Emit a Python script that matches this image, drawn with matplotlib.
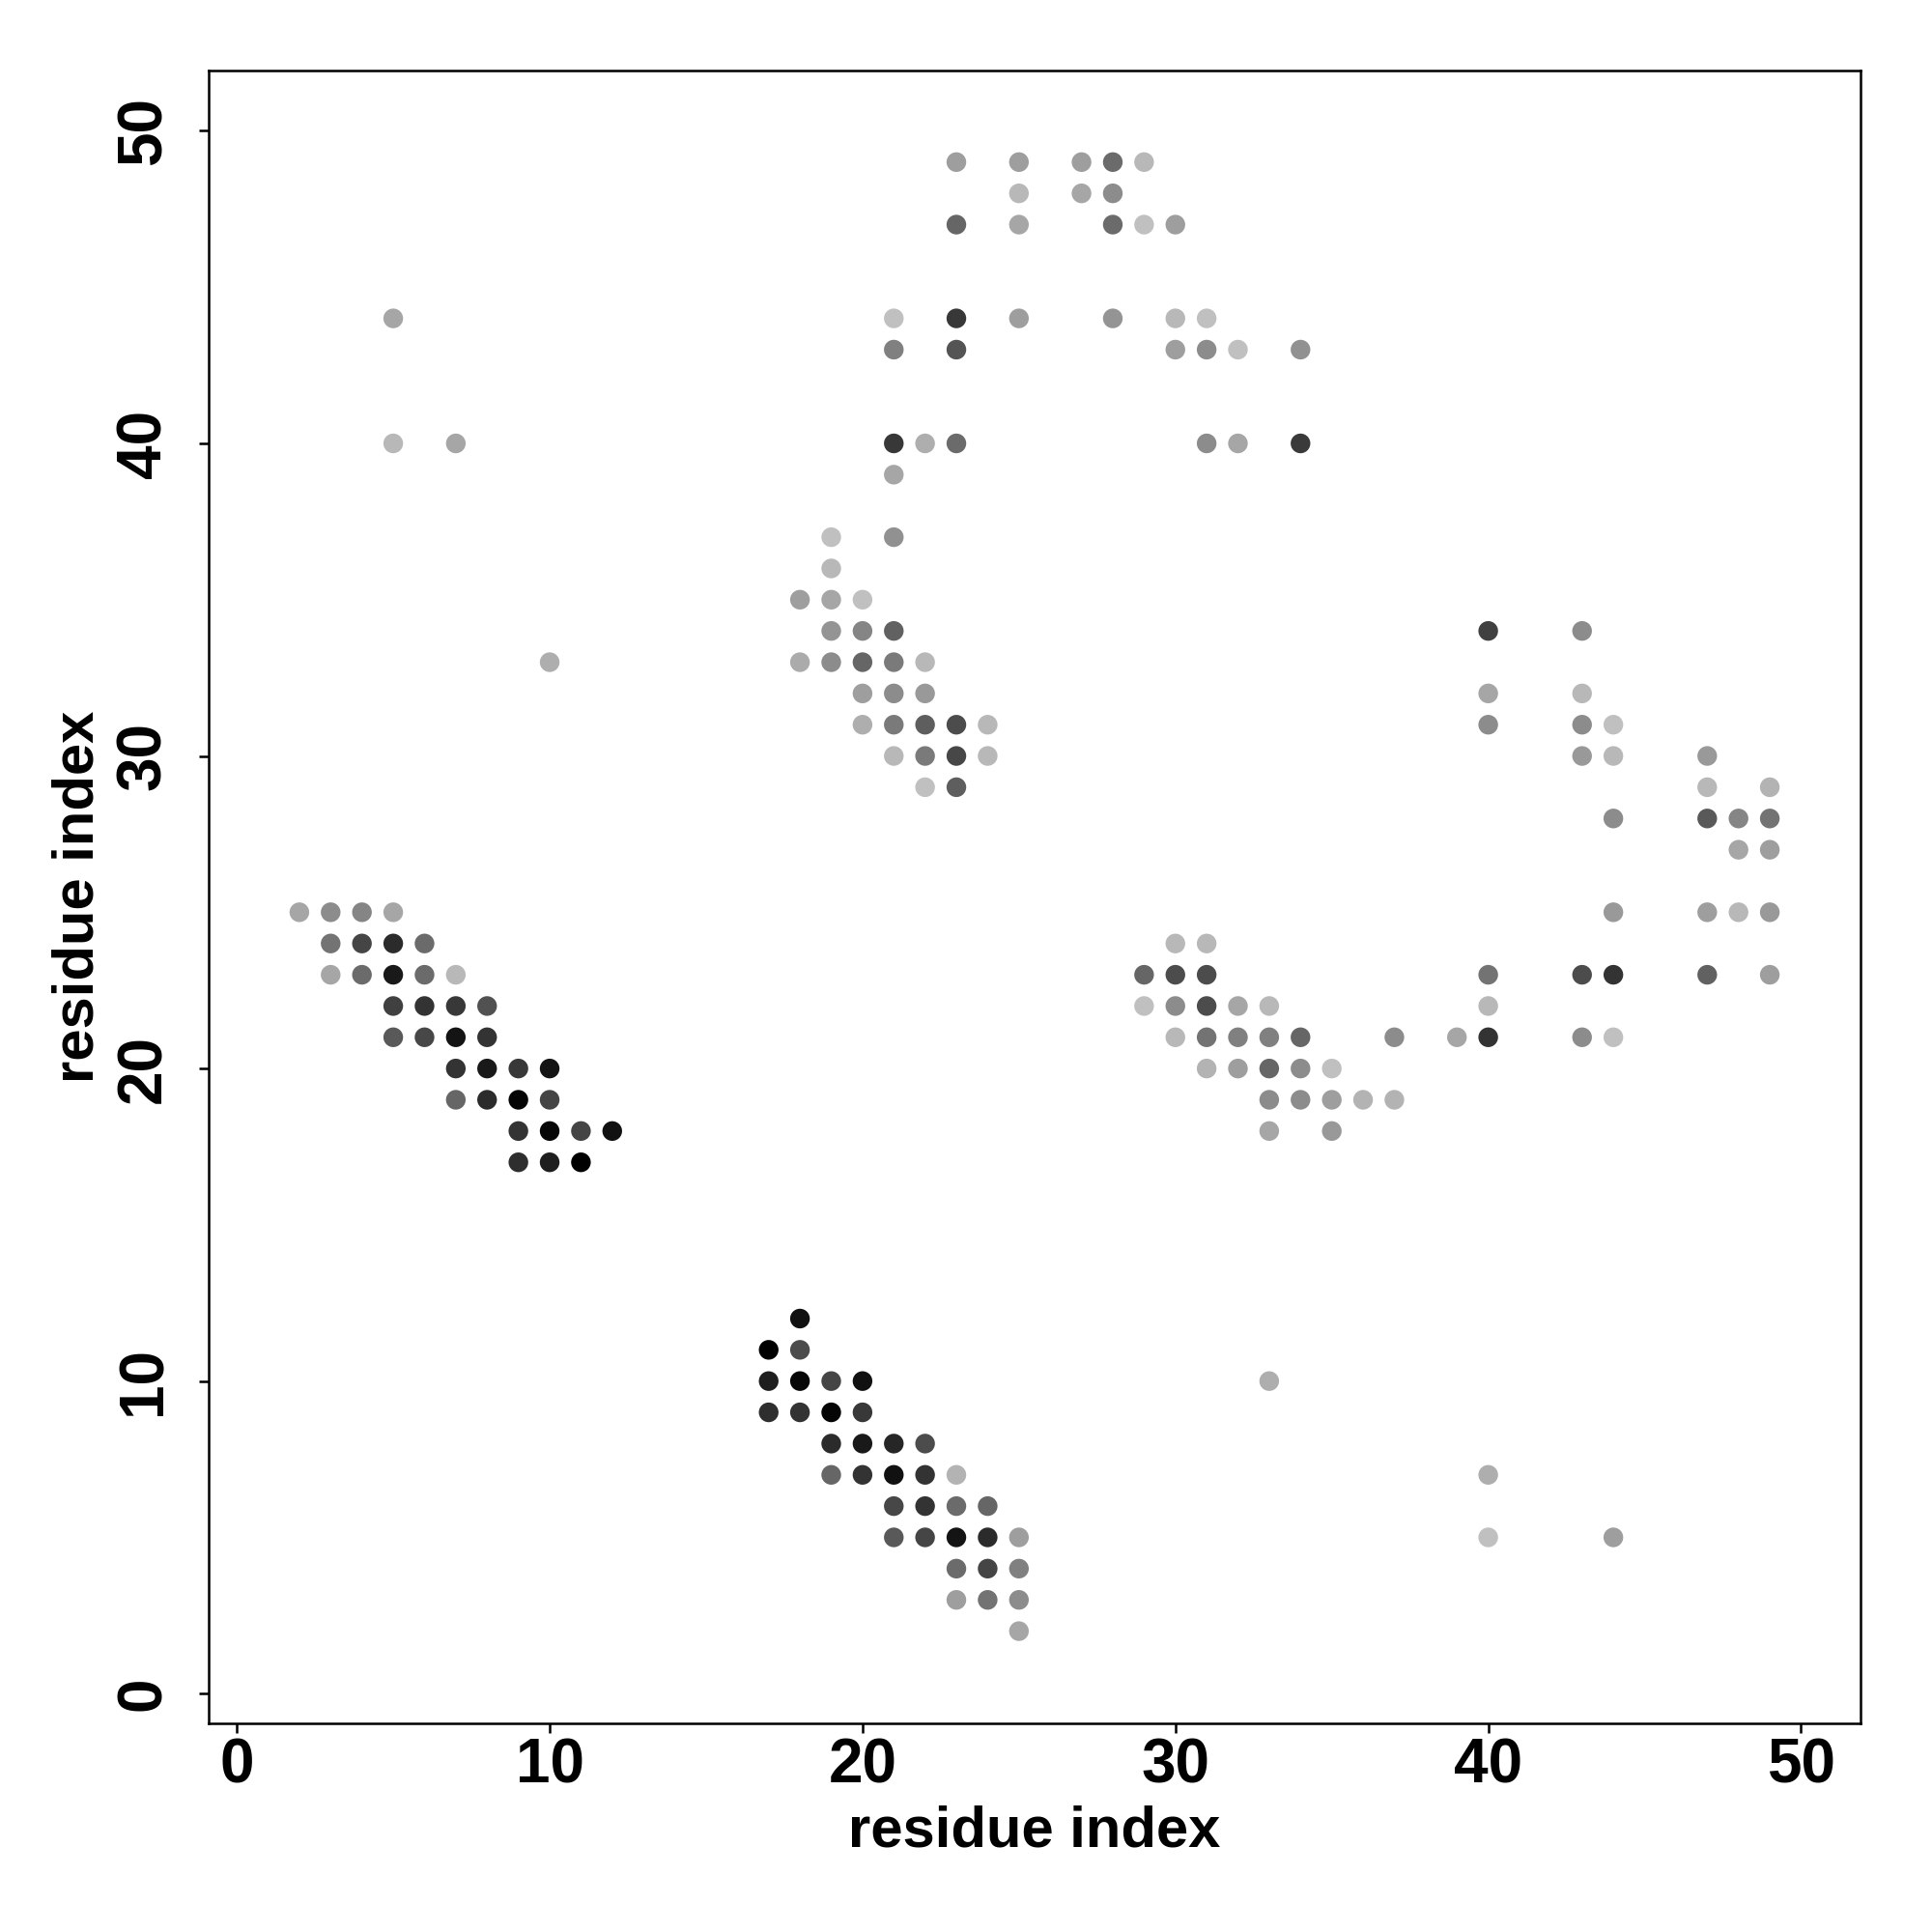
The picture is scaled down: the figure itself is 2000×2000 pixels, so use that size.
import numpy as np
import matplotlib.pyplot as plt

plt.rcParams['font.family'] = ['Liberation Sans', 'DejaVu Sans']
plt.rcParams['font.weight'] = 'bold'

# contact map: residue i, residue j, grey level (0 = black, 1 = white)
res_i = [
    # lower-left strand pair
    2, 3, 4, 5,
    3, 4, 5, 6,
    3, 4, 5, 6, 7,
    5, 6, 7, 8,
    5, 6, 7, 8,
    7, 8, 9, 10,
    7, 8, 9, 10,
    9, 10, 11, 12,
    9, 10, 11,
    # bottom strand pair
    18,
    17, 18,
    17, 18, 19, 20,
    17, 18, 19, 20,
    19, 20, 21, 22,
    19, 20, 21, 22, 23,
    21, 22, 23, 24,
    21, 22, 23, 24, 25,
    23, 24, 25,
    23, 24, 25,
    25,
    # top group
    23, 25, 27, 28, 29,
    25, 27, 28,
    23, 25, 28, 29, 30,
    21, 23, 25, 28, 30, 31,
    21, 23, 30, 31, 32, 34,
    21, 22, 23, 31, 32, 34,
    21,
    # middle group
    19, 21,
    19,
    18, 19, 20,
    19, 20, 21,
    18, 19, 20, 21, 22,
    20, 21, 22,
    20, 21, 22, 23, 24,
    21, 22, 23, 24,
    22, 23,
    # isolated
    5, 5, 7, 10, 33,
    # right-middle group
    30, 31,
    29, 30, 31,
    29, 30, 31, 32, 33,
    30, 31, 32, 33, 34, 37,
    31, 32, 33, 34, 35,
    33, 34, 35, 36, 37,
    33, 35,
    # far right
    39,
    40, 40, 40, 40, 40, 40, 40, 40,
    43, 43, 43, 43, 43, 43,
    44, 44, 44, 44, 44, 44, 44,
    47, 47, 47, 47, 47,
    48, 48, 48,
    49, 49, 49, 49, 49,
]

res_j = [
    25, 25, 25, 25,
    24, 24, 24, 24,
    23, 23, 23, 23, 23,
    22, 22, 22, 22,
    21, 21, 21, 21,
    20, 20, 20, 20,
    19, 19, 19, 19,
    18, 18, 18, 18,
    17, 17, 17,
    12,
    11, 11,
    10, 10, 10, 10,
    9, 9, 9, 9,
    8, 8, 8, 8,
    7, 7, 7, 7, 7,
    6, 6, 6, 6,
    5, 5, 5, 5, 5,
    4, 4, 4,
    3, 3, 3,
    2,
    49, 49, 49, 49, 49,
    48, 48, 48,
    47, 47, 47, 47, 47,
    44, 44, 44, 44, 44, 44,
    43, 43, 43, 43, 43, 43,
    40, 40, 40, 40, 40, 40,
    39,
    37, 37,
    36,
    35, 35, 35,
    34, 34, 34,
    33, 33, 33, 33, 33,
    32, 32, 32,
    31, 31, 31, 31, 31,
    30, 30, 30, 30,
    29, 29,
    44, 40, 40, 33, 10,
    24, 24,
    23, 23, 23,
    22, 22, 22, 22, 22,
    21, 21, 21, 21, 21, 21,
    20, 20, 20, 20, 20,
    19, 19, 19, 19, 19,
    18, 18,
    21,
    34, 32, 31, 23, 22, 21, 7, 5,
    34, 32, 31, 30, 23, 21,
    31, 30, 28, 25, 23, 21, 5,
    30, 29, 28, 25, 23,
    28, 27, 25,
    29, 28, 27, 25, 23,
]

shade = [
    0.65, 0.55, 0.52, 0.65,
    0.45, 0.27, 0.17, 0.42,
    0.65, 0.42, 0.10, 0.42, 0.72,
    0.25, 0.20, 0.22, 0.32,
    0.35, 0.28, 0.08, 0.20,
    0.20, 0.10, 0.22, 0.08,
    0.40, 0.17, 0.02, 0.27,
    0.20, 0.03, 0.27, 0.07,
    0.18, 0.12, 0.00,
    0.07,
    0.00, 0.30,
    0.12, 0.03, 0.27, 0.07,
    0.18, 0.20, 0.02, 0.22,
    0.17, 0.10, 0.15, 0.30,
    0.40, 0.20, 0.07, 0.20, 0.70,
    0.28, 0.20, 0.42, 0.40,
    0.35, 0.27, 0.08, 0.17, 0.62,
    0.42, 0.27, 0.50,
    0.62, 0.45, 0.55,
    0.65,
    0.62, 0.62, 0.62, 0.42, 0.72,
    0.72, 0.65, 0.55,
    0.40, 0.65, 0.42, 0.75, 0.62,
    0.75, 0.22, 0.62, 0.58, 0.72, 0.75,
    0.50, 0.33, 0.62, 0.55, 0.75, 0.57,
    0.22, 0.68, 0.42, 0.55, 0.65, 0.23,
    0.65,
    0.75, 0.57,
    0.72,
    0.62, 0.65, 0.75,
    0.58, 0.52, 0.38,
    0.67, 0.55, 0.40, 0.48, 0.72,
    0.62, 0.55, 0.60,
    0.68, 0.48, 0.37, 0.30, 0.72,
    0.72, 0.48, 0.28, 0.72,
    0.75, 0.37,
    0.65, 0.72, 0.65, 0.68, 0.68,
    0.72, 0.72,
    0.40, 0.30, 0.30,
    0.75, 0.55, 0.30, 0.65, 0.72,
    0.72, 0.45, 0.50, 0.50, 0.40, 0.55,
    0.70, 0.62, 0.40, 0.55, 0.75,
    0.55, 0.55, 0.62, 0.70, 0.70,
    0.65, 0.60,
    0.65,
    0.25, 0.65, 0.55, 0.45, 0.72, 0.20, 0.68, 0.75,
    0.55, 0.72, 0.55, 0.60, 0.30, 0.55,
    0.75, 0.72, 0.55, 0.60, 0.20, 0.75, 0.62,
    0.60, 0.72, 0.35, 0.62, 0.38,
    0.52, 0.65, 0.72,
    0.70, 0.45, 0.62, 0.60, 0.62,
]

ticks = [0, 10, 20, 30, 40, 50]

fig = plt.figure(figsize=(20, 20), dpi=100)
ax = fig.add_axes([0.108, 0.108, 0.855, 0.8555])

ax.scatter(res_i, res_j, c=shade, cmap='gray', vmin=0, vmax=1, s=215, linewidths=0)

ax.set_xlim(-0.9, 51.9)
ax.set_ylim(-0.95, 51.93)
ax.set_xticks(ticks)
ax.set_yticks(ticks)
for sp in ax.spines.values():
    sp.set_linewidth(1.8)

ax.tick_params(axis='both', length=7.5, width=1.8, labelsize=46)
ax.tick_params(axis='x', pad=3)
ax.tick_params(axis='y', pad=19)
for lab in ax.get_yticklabels():
    lab.set_rotation(90)
    lab.set_va('center')
    lab.set_fontweight('bold')
for lab in ax.get_xticklabels():
    lab.set_fontweight('bold')

ax.set_xlabel('residue index', fontsize=43, fontweight='bold', labelpad=7)
ax.set_ylabel('residue index', fontsize=43, fontweight='bold', labelpad=8)

fig.savefig('out.png', dpi=100, facecolor='white')
